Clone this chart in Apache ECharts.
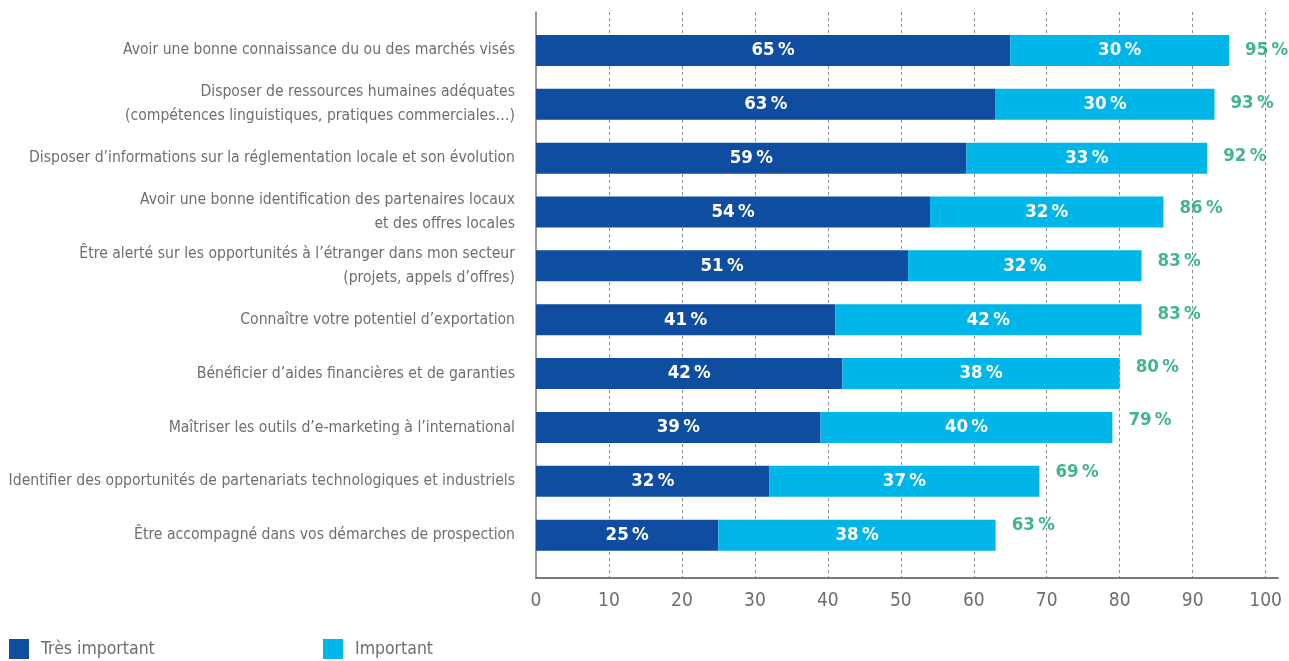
<!DOCTYPE html>
<html>
<head>
<meta charset="utf-8">
<script src="https://cdn.jsdelivr.net/npm/echarts@6/dist/echarts.min.js"></script>
<style>
  html, body { margin: 0; padding: 0; background: #fff; }
  #canvasWrap { width: 1289px; height: 661px; }
</style>
</head>
<body>
<div id="canvasWrap"></div>
<script>
const categories = [
    'Avoir une bonne connaissance du ou des marchés visés',
    'Disposer de ressources humaines adéquates\n(compétences linguistiques, pratiques commerciales…)',
    'Disposer d’informations sur la réglementation locale et son évolution',
    'Avoir une bonne identification des partenaires locaux\net des offres locales',
    'Être alerté sur les opportunités à l’étranger dans mon secteur\n(projets, appels d’offres)',
    'Connaître votre potentiel d’exportation',
    'Bénéficier d’aides financières et de garanties',
    'Maîtriser les outils d’e-marketing à l’international',
    'Identifier des opportunités de partenariats technologiques et industriels',
    'Être accompagné dans vos démarches de prospection'
];
const tresImportant = [65, 63, 59, 54, 51, 41, 42, 39, 32, 25];
const important = [30, 30, 33, 32, 32, 42, 38, 40, 37, 38];
const totals = [95, 93, 92, 86, 83, 83, 80, 79, 69, 63];

const FONT = '"Liberation Sans Narrow", "DejaVu Sans Condensed", sans-serif';
const GREY = '#6d6e71';
const DARK = '#0e4d9f';
const LIGHT = '#00b5e8';
const GREEN = '#12a277';
const XMAX = 101.7;

const myChart = echarts.init(document.getElementById('canvasWrap'));

function barLabel() {
    return {
        show: true,
        position: 'inside',
        color: '#fff',
        fontFamily: FONT,
        fontWeight: 'bold',
        fontSize: 18.5,
        formatter: '{c}\u2009%'
    };
}

function hiddenX(idx) {
    return { gridIndex: idx, type: 'value', min: 0, max: XMAX, show: false };
}

const option = {
    backgroundColor: '#fff',
    animation: false,
    textStyle: { fontFamily: FONT },
    legend: [{
        left: 4,
        top: 634,
        itemWidth: 20,
        itemHeight: 20,
        icon: 'rect',
        data: ['Très important'],
        textStyle: { color: GREY, fontSize: 17.5, fontFamily: FONT, padding: [0, 0, 0, 7] }
    }, {
        left: 318,
        top: 634,
        itemWidth: 20,
        itemHeight: 20,
        icon: 'rect',
        data: ['Important'],
        textStyle: { color: GREY, fontSize: 17.5, fontFamily: FONT, padding: [0, 0, 0, 7] }
    }],
    grid: [
        // bars
        { left: 536, right: 11, top: 23.5, height: 538.6, outerBoundsMode: 'none', containLabel: false },
        // axes frame and grid lines
        { left: 536, right: 11, top: 12, height: 565.7, outerBoundsMode: 'none', containLabel: false },
        // totals (set slightly tighter in the original)
        { left: 536, right: 11, top: 23.8, height: 528, outerBoundsMode: 'none', containLabel: false }
    ],
    xAxis: [hiddenX(0), {
        gridIndex: 1,
        type: 'value',
        min: 0,
        max: XMAX,
        interval: 10,
        axisLine: { show: true, lineStyle: { color: '#7a7a7a', width: 2 } },
        axisTick: { show: false },
        axisLabel: {
            color: GREY,
            fontSize: 19,
            fontFamily: FONT,
            margin: 14,
            showMaxLabel: false
        },
        splitLine: {
            show: true,
            showMinLine: false,
            showMaxLine: false,
            lineStyle: { color: '#8c8c8c', type: [3, 3], width: 1 }
        }
    }, hiddenX(2)],
    yAxis: [{
        gridIndex: 0,
        type: 'category',
        inverse: true,
        data: categories,
        axisLine: { show: false },
        axisTick: { show: false },
        axisLabel: {
            color: GREY,
            fontSize: 15.6,
            fontFamily: FONT,
            margin: 21,
            lineHeight: 24,
            align: 'right'
        }
    }, {
        gridIndex: 1,
        type: 'value',
        min: 0,
        max: 1,
        axisLine: { show: true, lineStyle: { color: '#7a7a7a', width: 1.5 } },
        axisTick: { show: false },
        axisLabel: { show: false },
        splitLine: { show: false }
    }, {
        gridIndex: 2,
        type: 'category',
        inverse: true,
        data: categories,
        show: false
    }],
    series: [{
        name: 'Très important',
        type: 'bar',
        stack: 'total',
        xAxisIndex: 0,
        yAxisIndex: 0,
        barWidth: 31,
        itemStyle: { color: DARK },
        label: barLabel(),
        data: tresImportant
    }, {
        name: 'Important',
        type: 'bar',
        stack: 'total',
        xAxisIndex: 0,
        yAxisIndex: 0,
        barWidth: 31,
        itemStyle: { color: LIGHT },
        label: barLabel(),
        data: important
    }, {
        name: 'Total',
        type: 'scatter',
        xAxisIndex: 2,
        yAxisIndex: 2,
        symbolSize: 0,
        silent: true,
        label: {
            show: true,
            position: 'right',
            distance: 16,
            color: GREEN,
            fontFamily: FONT,
            fontWeight: 'bold',
            fontSize: 18.5,
            formatter: function (p) { return p.value[0] + '\u2009%'; }
        },
        data: totals.map(function (t, i) { return [t, categories[i]]; })
    }]
};

myChart.setOption(option);
</script>
</body>
</html>
